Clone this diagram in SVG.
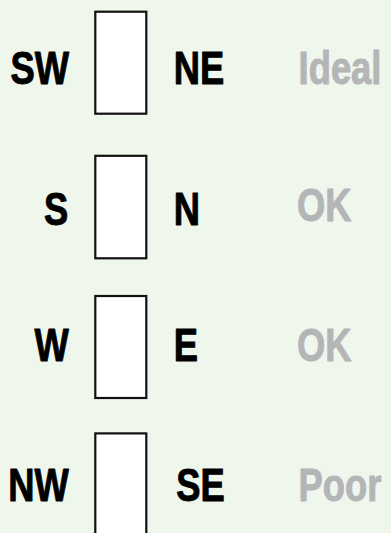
<svg xmlns="http://www.w3.org/2000/svg" width="391" height="533" viewBox="0 0 391 533">
<style>
.box{fill:#ffffff;stroke:#111111;stroke-width:2.2}
.lbl{font-family:"Liberation Sans",Arial,sans-serif;font-weight:bold;font-size:46px;fill:#000000;stroke:#000000;stroke-width:1;stroke-linejoin:round}
.rt{fill:#b4b5b7;stroke:#b4b5b7}
.end{text-anchor:end}
</style>
<rect x="0" y="0" width="391" height="533" fill="#eff7ed"/>
<g id="row1">
<rect class="box" x="95.3" y="11.7" width="51" height="102"/>
<g transform="scale(0.79 1)">
<text class="lbl end" x="87.4" y="84">SW</text>
<text class="lbl" x="220" y="84">NE</text>
<text class="lbl rt" x="378" y="84">Ideal</text>
</g>
</g>
<g id="row2">
<rect class="box" x="95.3" y="155.8" width="51" height="102.5"/>
<g transform="scale(0.79 1)">
<text class="lbl end" x="86.4" y="225">S</text>
<text class="lbl" x="220" y="225">N</text>
<text class="lbl rt" x="376" y="221">OK</text>
</g>
</g>
<g id="row3">
<rect class="box" x="95.3" y="296" width="51" height="102"/>
<g transform="scale(0.79 1)">
<text class="lbl end" x="87" y="361">W</text>
<text class="lbl" x="220" y="361">E</text>
<text class="lbl rt" x="376" y="361">OK</text>
</g>
</g>
<g id="row4">
<rect class="box" x="95.3" y="433.4" width="51" height="110"/>
<g transform="scale(0.79 1)">
<text class="lbl end" x="87" y="501">NW</text>
<text class="lbl" x="223" y="501">SE</text>
<text class="lbl rt" x="378" y="501">Poor</text>
</g>
</g>
<g id="connectors"/>
</svg>
